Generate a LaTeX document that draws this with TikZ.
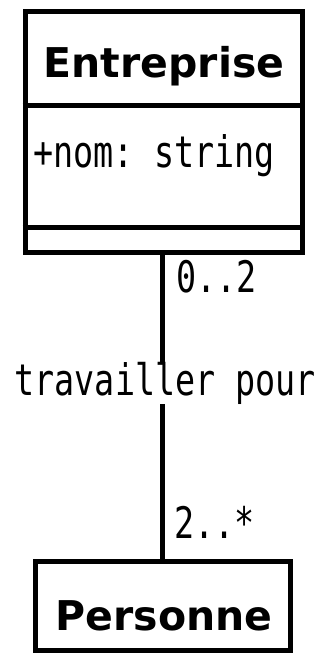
\documentclass[tikz,border=0pt]{standalone}
\usepackage{fontspec}
\usepackage{graphicx}
\setsansfont{DejaVu Sans}
\setmonofont{DejaVu Sans Mono}
\newcommand{\umltitre}[1]{{\sffamily\bfseries\fontsize{41}{41}\selectfont #1}}
\newcommand{\umltexte}[1]{\scalebox{1}[1.3]{\ttfamily\fontsize{33.4}{34}\selectfont #1}}

\begin{document}
\begin{tikzpicture}[x=1pt, y=-1pt, line width=5pt,
    classe/.style={draw, rectangle, inner sep=0pt},
    texte/.style={inner sep=0pt, anchor=base west}]
    \useasboundingbox (0,0) rectangle (320,653);

    % -- Classe Entreprise --
    \node[classe, minimum width=277pt, minimum height=241pt] (entreprise) at (163.5,131.5) {};
    \coordinate (sep1) at (0,105.5);
    \coordinate (sep2) at (0,227);
    \draw (entreprise.west |- sep1) -- (entreprise.east |- sep1);
    \draw (entreprise.west |- sep2) -- (entreprise.east |- sep2);
    \node[inner sep=0pt, anchor=base] (titreE) at (164,77) {\umltitre{Entreprise}};
    \node[texte] (attrnom) at (31,167) {\umltexte{+nom: string}};

    % -- Classe Personne --
    \node[classe, minimum width=255pt, minimum height=89pt] (personne) at (162.5,605.5) {};
    \node[inner sep=0pt, anchor=base] (titreP) at (164,630) {\umltitre{Personne}};

    % Association
    \draw (entreprise.south -| personne.north) -- (personne.north);
    \node[texte, fill=white] (assoc) at (12,395) {\umltexte{travailler pour}};
    \node[texte] (multE) at (174,292) {\umltexte{0..2}};
    \node[texte] (multP) at (172,538) {\umltexte{2..*}};
\end{tikzpicture}
\end{document}
